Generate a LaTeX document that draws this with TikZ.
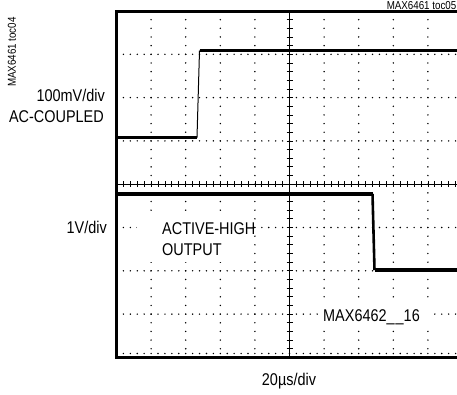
\documentclass[tikz,border=0pt]{standalone}
\usepackage{fontspec}
\setmainfont[FakeStretch=0.85]{Liberation Sans}
\begin{document}
\begin{tikzpicture}[x=1pt,y=-1pt,
  lbl/.style={font=\fontsize{17}{20}\selectfont, inner sep=0pt},
  small/.style={font=\fontsize{11.5}{13}\selectfont, inner sep=0pt},
  trace/.style={line width=3.6pt},
  edge/.style={line width=1pt},
  frame/.style={line width=3pt},
  axis/.style={line width=0.8pt},
  dot/.style={fill=black}]
\useasboundingbox (0,0) rectangle (457,394);
\begin{scope}
\clip (0,0) rectangle (457,394);
% dotted grid (horizontal lines)
\foreach \j in {1,2,3,5,6,7}{
  \foreach \i in {1,...,49}{
    \fill[dot] (116.5+\i*6.92, 11+\j*43.3) circle (0.8pt);
  }
}
% dotted grid (vertical lines)
\foreach \k in {1,2,3,4,6,7,8,9}{
  \foreach \i in {1,...,39}{
    \fill[dot] (116.5+\k*34.6, 11+\i*8.66) circle (0.8pt);
  }
}
% centre axes with ticks
\draw[axis] (289.5,11) -- (289.5,357.5);
\foreach \i in {1,...,39}{
  \draw[axis] (286.5, 11+\i*8.66) -- (292.5, 11+\i*8.66);
}
\draw[axis] (116.5,184.3) -- (460,184.3);
\foreach \i in {1,...,49}{
  \draw[axis] (116.5+\i*6.92,181.3) -- (116.5+\i*6.92,187.3);
}
% ticks along the bottom edge
\foreach \i in {1,...,49}{
  \fill[dot] (116.5+\i*6.92, 353.5) circle (0.8pt);
}
% labels inside the plot (white background)
\fill[white] (137,212) rectangle (252,262);
\node[lbl, anchor=base west] (ah) at (162,234) {ACTIVE-HIGH};
\node[lbl, anchor=base west] (out) at (162,255) {OUTPUT};
\fill[white] (318,304) rectangle (431,327);
\node[lbl, anchor=base west] (mx) at (323,321) {MAX6462\_\kern1pt\_16};
% frame
\draw[frame] (460,11) -- (116.5,11) -- (116.5,357.5) -- (460,357.5);
% traces
\coordinate (t1) at (116.5,137.5);
\coordinate (t2) at (197,137.5);
\coordinate (t3) at (199.5,50.5);
\coordinate (t4) at (460,50.5);
\draw[trace] (t1) -- (t2);
\draw[edge] (t2) -- (t3);
\draw[trace] (t3) -- (t4);
\coordinate (b1) at (116.5,194);
\coordinate (b2) at (372.5,194);
\coordinate (b3) at (374.5,270);
\coordinate (b4) at (460,270);
\draw[trace] (b1) -- (b2);
\draw[line width=2.6pt] (b2) -- (b3);
\draw[trace] (b3) -- (b4);
% outside labels
\node[lbl, anchor=base east] (v1) at (105,101) {100mV/div};
\node[lbl, anchor=base east] (v1b) at (104,122) {AC-COUPLED};
\node[lbl, anchor=base east] (v2) at (107,233) {1V/div};
\node[lbl, anchor=base] (tb) at (289,385) {20µs/div};
\node[small, rotate=90, anchor=base west] (id1) at (16,87) {MAX6461 toc04};
\node[small, anchor=base east] (id2) at (456.5,9) {MAX6461 toc05};
\end{scope}
\end{tikzpicture}
\end{document}
